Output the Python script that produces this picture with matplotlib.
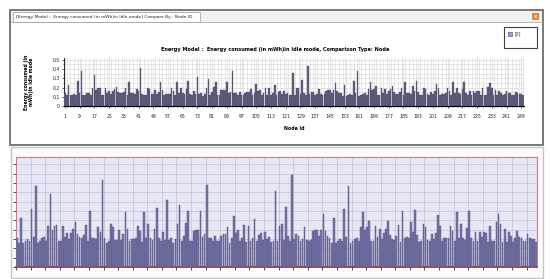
import numpy as np
import matplotlib

matplotlib.use("Agg")
import matplotlib.pyplot as plt
from matplotlib.patches import Rectangle
from matplotlib.ticker import MultipleLocator

# energy consumed in idle mode (mWh), one value per node, read in blocks
nodes_1_49 = [0.137, 0.114, 0.23, 0.114, 0.12, 0.13, 0.12, 0.27, 0.14, 0.377,
              0.114, 0.12, 0.136, 0.14, 0.12, 0.19, 0.34, 0.175, 0.19, 0.195,
              0.12, 0.12, 0.19, 0.14, 0.16, 0.13, 0.16, 0.18, 0.21, 0.153,
              0.14, 0.136, 0.15, 0.197, 0.12, 0.26, 0.137, 0.137, 0.133, 0.186,
              0.164, 0.408, 0.135, 0.114, 0.124, 0.2, 0.188, 0.128, 0.125]
nodes_50_100 = [0.172, 0.128, 0.156, 0.257, 0.177, 0.12, 0.13, 0.133, 0.135, 0.19,
                0.167, 0.116, 0.257, 0.137, 0.2, 0.137, 0.128, 0.18, 0.274, 0.135,
                0.122, 0.166, 0.128, 0.313, 0.128, 0.137, 0.113, 0.13, 0.2, 0.29,
                0.12, 0.147, 0.205, 0.263, 0.12, 0.12, 0.169, 0.172, 0.172, 0.263,
                0.142, 0.153, 0.383, 0.136, 0.137, 0.12, 0.147, 0.12, 0.12, 0.144,
                0.156]
nodes_101_151 = [0.156, 0.185, 0.114, 0.137, 0.238, 0.158, 0.175, 0.12, 0.136, 0.196,
                 0.116, 0.192, 0.12, 0.137, 0.227, 0.122, 0.149, 0.158, 0.125, 0.164,
                 0.13, 0.142, 0.117, 0.122, 0.355, 0.122, 0.19, 0.2, 0.128, 0.282,
                 0.144, 0.12, 0.43, 0.133, 0.153, 0.147, 0.12, 0.13, 0.188, 0.128,
                 0.12, 0.125, 0.167, 0.175, 0.175, 0.144, 0.172, 0.247, 0.167, 0.146,
                 0.137]
nodes_152_203 = [0.113, 0.23, 0.113, 0.12, 0.133, 0.124, 0.27, 0.142, 0.377, 0.113,
                 0.122, 0.133, 0.136, 0.12, 0.188, 0.257, 0.175, 0.186, 0.216, 0.122,
                 0.12, 0.19, 0.14, 0.18, 0.133, 0.16, 0.18, 0.214, 0.152, 0.133,
                 0.127, 0.147, 0.197, 0.117, 0.263, 0.137, 0.14, 0.135, 0.213, 0.163,
                 0.266, 0.152, 0.116, 0.122, 0.2, 0.188, 0.128, 0.124, 0.156, 0.133,
                 0.16, 0.243]
nodes_204_250 = [0.192, 0.12, 0.135, 0.135, 0.137, 0.19, 0.167, 0.12, 0.257, 0.137,
                 0.2, 0.137, 0.128, 0.183, 0.263, 0.137, 0.12, 0.164, 0.12, 0.164,
                 0.142, 0.164, 0.161, 0.117, 0.19, 0.122, 0.122, 0.21, 0.25, 0.2,
                 0.117, 0.177, 0.117, 0.166, 0.144, 0.117, 0.135, 0.167, 0.14, 0.136,
                 0.12, 0.12, 0.153, 0.136, 0.13, 0.13, 0.116]
energy = nodes_1_49 + nodes_50_100 + nodes_101_151 + nodes_152_203 + nodes_204_250
node_ids = list(range(1, len(energy) + 1))
xtick_ids = list(range(1, 250, 8))
series_name = "[0]"

W, H = 550, 279
fig = plt.figure(figsize=(W / 100, H / 100), dpi=100)
fig.patch.set_facecolor("white")


def px_axes(x0, y0, x1, y1, **kw):
    return fig.add_axes([x0 / W, 1 - y1 / H, (x1 - x0) / W, (y1 - y0) / H], **kw)


# window chrome drawn in pixel coordinates
bg = px_axes(0, 0, W, H, zorder=0)
bg.set_xlim(0, W)
bg.set_ylim(H, 0)
bg.axis("off")
bg.add_patch(Rectangle((10, 10), 533, 135, fc="white", ec="#6e6e6e", lw=1.3))
bg.add_patch(Rectangle((11, 11), 531, 11, fc="#f1f1f1", ec="none"))
bg.plot([11, 542], [22, 22], color="#a8a8a8", lw=0.6)
bg.add_patch(Rectangle((13, 12), 187, 10, fc="white", ec="#a8a8a8", lw=0.6))
bg.text(16, 17, "[Energy Model :  Energy consumed (in mWh)in Idle mode] Compare By : Node ID",
        fontsize=3.2, va="center", ha="left", color="#222222")
bg.add_patch(Rectangle((532, 13), 6, 6, fc="#f0802a", ec="#c06020", lw=0.4))
bg.text(535, 16.2, "x", fontsize=3.5, color="white", ha="center", va="center", fontweight="bold")
bg.add_patch(Rectangle((504, 27), 33, 21, fc="white", ec="#404040", lw=0.8))
bg.add_patch(Rectangle((508, 31.5), 4, 4, fc="#9a9ad8", ec="#404070", lw=0.4))
bg.text(515, 33.5, series_name, fontsize=3.3, va="center", ha="left", color="#333333")
bg.add_patch(Rectangle((11, 147), 532, 131, fc="#fbfbfb", ec="#c4c4c4", lw=1.0))

fig.text(275 / W, 1 - 49 / H, "Energy Model :  Energy consumed (in mWh)in Idle mode, Comparison Type: Node",
         ha="center", va="center", fontsize=3.6, fontweight="bold")

# top chart
ax = px_axes(64, 58, 524, 106, zorder=2)
ax.bar(node_ids, energy, width=0.9, color="#5e5e7e", edgecolor="#44445e", lw=0.2, zorder=3)
ax.set_xlim(0.5, 250.5)
ax.set_ylim(0, 0.52)
ax.set_xticks(xtick_ids)
ax.set_xticklabels([str(i) for i in xtick_ids])
ax.xaxis.set_minor_locator(MultipleLocator(2))
ax.set_yticks([0, 0.1, 0.2, 0.3, 0.4, 0.5])
ax.set_yticklabels(["0", "0.1", "0.2", "0.3", "0.4", "0.5"])
ax.yaxis.set_minor_locator(MultipleLocator(0.05))
ax.grid(True, which="both", color="#d4d4d4", lw=0.4, zorder=0)
ax.tick_params(labelsize=3.3, length=1.5, width=0.5, pad=1.5, colors="#222222")
ax.tick_params(which="minor", length=1, width=0.4)
ax.tick_params(axis="x", pad=4)
for s in ("top", "right"):
    ax.spines[s].set_visible(False)
ax.spines["left"].set_linewidth(0.6)
ax.spines["bottom"].set_linewidth(0.8)
ax.set_xlabel("Node Id", fontsize=3.4, fontweight="bold", labelpad=5)
ax.set_ylabel("Energy consumed (in\nmWh)in Idle mode", fontsize=3.3, fontweight="bold",
              labelpad=13, linespacing=1.1)

# bottom (enlarged) chart
ax2 = px_axes(16, 157, 537, 267, zorder=2)
ax2.set_facecolor("#e7e7f6")
ax2.bar(node_ids, energy, width=0.82, color="#7474a8", edgecolor="#50507c", lw=0.3, zorder=3)
ax2.set_xlim(0.5, 250.5)
ax2.set_ylim(0, 0.515)
ax2.set_xticks(np.arange(0.5, 251, 7))
ax2.set_yticks(np.linspace(0, 0.48, 12))
ax2.set_xticklabels([])
ax2.set_yticklabels([])
ax2.grid(True, color="#c6c6d6", lw=0.6, zorder=0)
ax2.tick_params(length=2, width=0.6, colors="#333333")
for s in ("top", "left", "right"):
    ax2.spines[s].set_color("#d07884")
    ax2.spines[s].set_linewidth(0.8)
ax2.spines["bottom"].set_color("#a03044")
ax2.spines["bottom"].set_linewidth(1.3)

fig.savefig("out.png", dpi=100)
